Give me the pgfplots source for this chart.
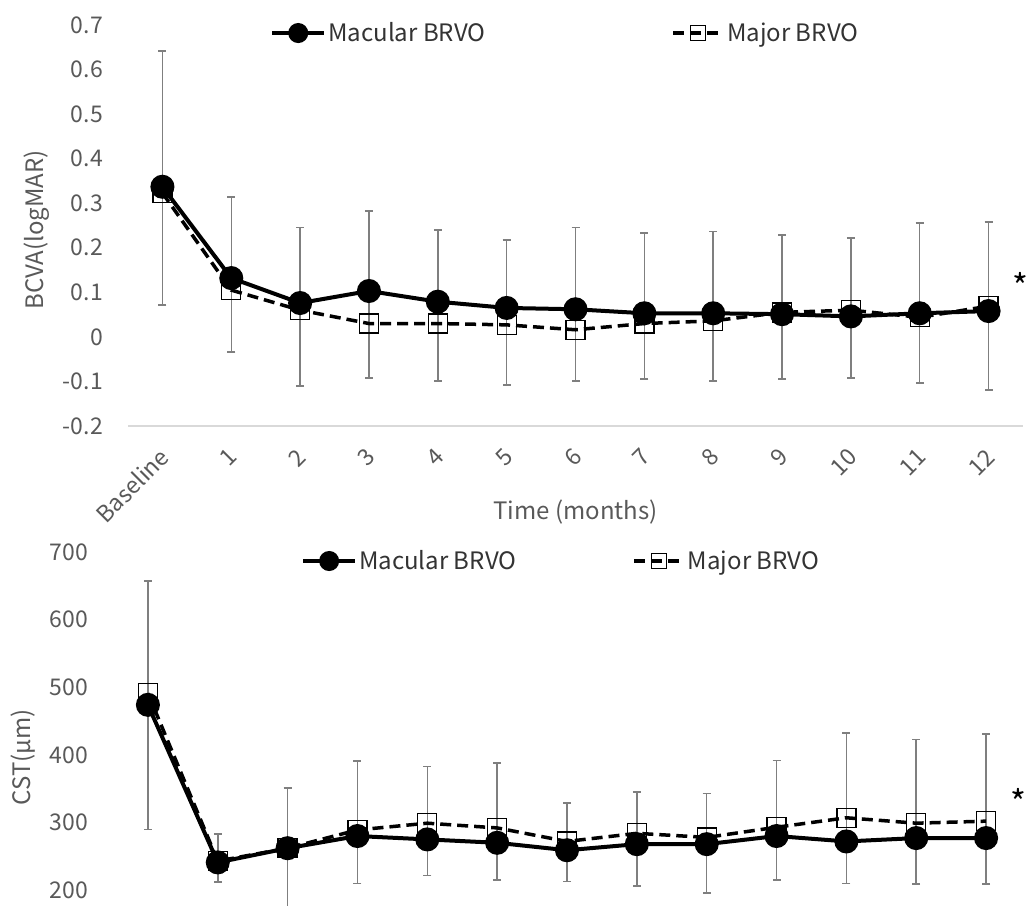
\documentclass[border=0pt]{standalone}
\usepackage{pgfplots}
\pgfplotsset{compat=1.18}
\usepackage{pgfplotstable}
\usepackage{fontspec}
\setmainfont{Noto Sans CJK JP}
\definecolor{tickgray}{HTML}{595959}
\definecolor{errgray}{HTML}{7F7F7F}
\definecolor{axgray}{HTML}{D9D9D9}

% BCVA: mean of each group, and the top / bottom of the error bar
\pgfplotstableread{
x  mac   maj   hi     lo
0  0.337 0.323 0.642  0.072
1  0.132 0.105 0.314 -0.034
2  0.076 0.060 0.245 -0.110
3  0.103 0.030 0.283 -0.092
4  0.079 0.030 0.240 -0.099
5  0.065 0.027 0.218 -0.108
6  0.062 0.016 0.245 -0.099
7  0.053 0.030 0.233 -0.094
8  0.053 0.036 0.236 -0.099
9  0.051 0.055 0.229 -0.094
10 0.046 0.060 0.222 -0.092
11 0.053 0.044 0.256 -0.103
12 0.058 0.069 0.258 -0.119
}\bcva

% CST
\pgfplotstableread{
x  mac maj hi  lo
0  474 491 657 290
1  241 243 283 212
2  262 262 351 170
3  280 289 391 210
4  275 299 383 222
5  270 292 388 215
6  259 272 329 213
7  268 284 345 206
8  268 278 343 196
9  280 293 392 215
10 272 307 432 210
11 277 299 423 209
12 277 302 431 209
}\cst

\pgfplotsset{
  brvo/.style={
    scale only axis, xmin=-0.5, xmax=12.5, clip=true,
    major tick length=0pt, tick style={draw=none},
    ticklabel style={font=\fontsize{23}{27}\selectfont, text=tickgray},
    label style={font=\fontsize{24}{28}\selectfont, text=tickgray},
    legend columns=2,
    legend style={draw=none, fill=none, inner sep=0pt,
      font=\fontsize{24}{28}\selectfont, text=black!80, cells={anchor=west}},
  },
  macline/.style={black, line width=4pt, mark=*, mark size=10pt,
    mark options={solid, fill=black},
    legend image code/.code={\draw[mark repeat=2, mark phase=2, ##1, mark size=8pt]
      plot coordinates {(0pt,0pt) (26pt,0pt) (52pt,0pt)};}},
  majline/.style={black, line width=3.5pt, dash pattern=on 11pt off 6pt,
    mark=square, mark size=9.5pt, mark options={solid, line width=1.3pt},
    legend image code/.code={\draw[mark repeat=2, mark phase=2, ##1, mark size=7.5pt]
      plot coordinates {(0pt,0pt) (25pt,0pt) (50pt,0pt)};}},
  errs/.style={draw=none, mark=none, forget plot,
    error bars/.cd, y dir=both, y explicit,
    error bar style={draw=errgray, line width=1.5pt, solid},
    error mark options={rotate=90, draw=errgray, mark size=4pt, line width=1.5pt}},
}

\begin{document}
\begin{tikzpicture}
\path[use as bounding box] (0pt,0pt) rectangle (1030pt,-905pt);

\begin{axis}[brvo,
  at={(128pt,-426pt)}, anchor=south west,
  width=895pt, height=401pt,
  ymin=-0.2, ymax=0.7,
  ytick={-0.2,-0.1,0,0.1,0.2,0.3,0.4,0.5,0.6,0.7},
  yticklabels={-0.2,-0.1,0,0.1,0.2,0.3,0.4,0.5,0.6,0.7},
  yticklabel style={anchor=east, inner sep=0pt, xshift=-25pt},
  xtick={0,...,12},
  xticklabels={Baseline,1,2,3,4,5,6,7,8,9,10,11,12},
  xticklabel style={inner sep=0pt, yshift=-27pt, xshift=2pt, rotate=45, anchor=east},
  axis x line*=bottom, axis y line*=left,
  x axis line style={draw=axgray, line width=1.5pt},
  y axis line style={draw=none},
  xlabel={Time (months)},
  xlabel style={at={(axis description cs:0.5,0)}, anchor=center, yshift=-86pt},
  ylabel={BCVA(logMAR)},
  ylabel style={at={(axis description cs:-0.1017,0.489)}, anchor=center},
  legend style={at={(axis description cs:0.1587,0.980)}, anchor=west,
    /tikz/every even column/.append style={column sep=184pt}},
]
\addplot[errs] table[x=x, y=mac,
  y error plus expr=\thisrow{hi}-\thisrow{mac},
  y error minus expr=\thisrow{mac}-\thisrow{lo}] {\bcva};
\addplot[macline] table[x=x, y=mac] {\bcva};
\addlegendentry{Macular BRVO}
\addplot[majline] table[x=x, y=maj] {\bcva};
\addlegendentry{Major BRVO}
\end{axis}

\begin{axis}[brvo,
  at={(113pt,-905pt)}, anchor=south west,
  width=908pt, height=353pt,
  ymin=178, ymax=700,
  ytick={200,300,400,500,600,700},
  yticklabels={200,300,400,500,600,700},
  yticklabel style={anchor=east, inner sep=0pt, xshift=-25pt},
  xtick=\empty,
  axis line style={draw=none},
  ylabel={CST(μm)},
  ylabel style={at={(axis description cs:-0.0991,0.419)}, anchor=center},
  legend style={at={(axis description cs:0.207,0.9745)}, anchor=west,
    /tikz/every even column/.append style={column sep=114pt}},
]
\addplot[errs] table[x=x, y=mac,
  y error plus expr=\thisrow{hi}-\thisrow{mac},
  y error minus expr=\thisrow{mac}-\thisrow{lo}] {\cst};
\addplot[macline] table[x=x, y=mac] {\cst};
\addlegendentry{Macular BRVO}
\addplot[majline] table[x=x, y=maj] {\cst};
\addlegendentry{Major BRVO}
\end{axis}

\node[font=\fontsize{34}{36}\selectfont, inner sep=0pt] at (1020pt,-286pt) {*};
\node[font=\fontsize{34}{36}\selectfont, inner sep=0pt] at (1018pt,-802pt) {*};
\end{tikzpicture}
\end{document}
